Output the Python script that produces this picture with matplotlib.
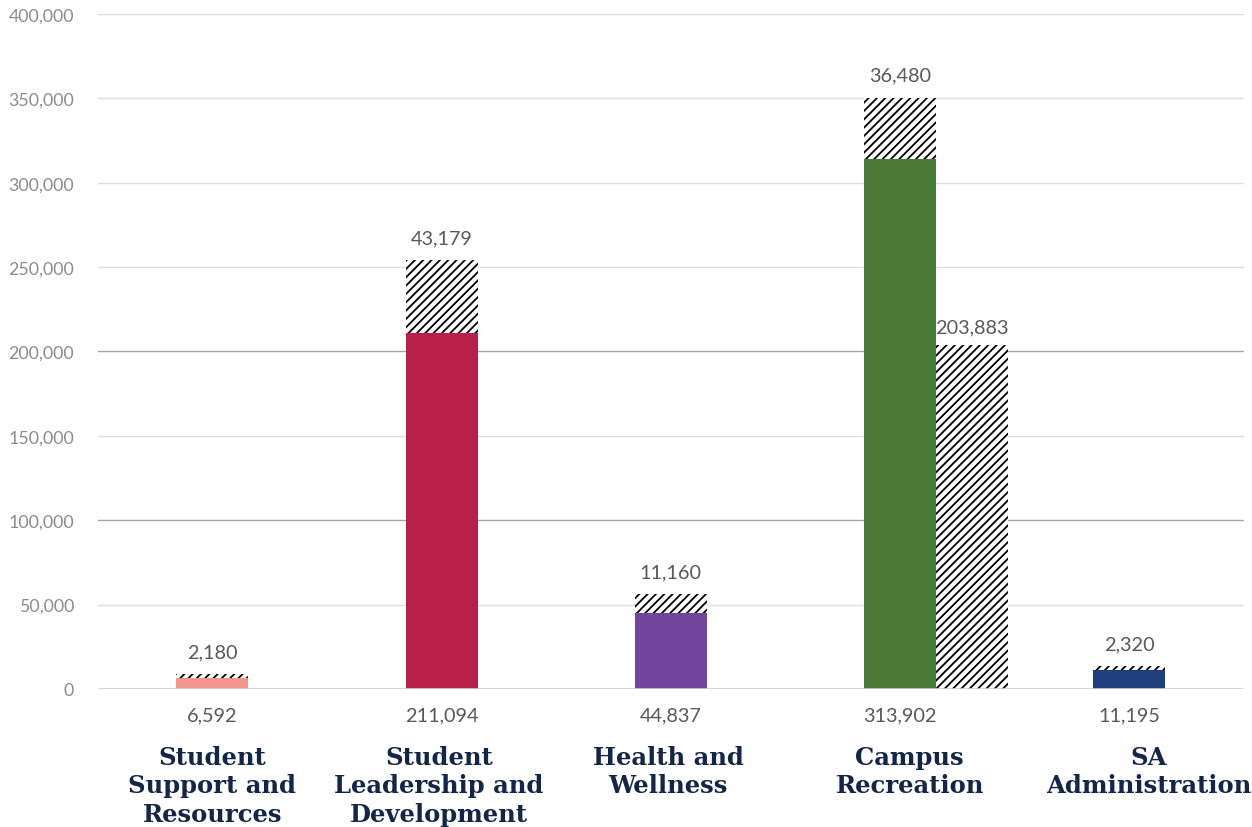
import matplotlib
matplotlib.use("Agg")
import matplotlib.pyplot as plt

# --- data ---
categories = ["Student\nSupport and\nResources",
              "Student\nLeadership and\nDevelopment",
              "Health and\nWellness",
              "Campus\nRecreation",
              "SA\nAdministration"]
base_values = [6592, 211094, 44837, 313902, 11195]
top_values = [2180, 43179, 11160, 36480, 2320]
extra_value = 203883          # second hatched bar next to Campus Recreation
extra_index = 3
bar_colors = ["#F2958C", "#B81F49", "#71459B", "#4A7A36", "#1E3F7B"]
yticks = [0, 50000, 100000, 150000, 200000, 250000, 300000, 350000, 400000]

plt.rcParams['hatch.linewidth'] = 1.3
num_font = "Lato"
gray = "#595959"

fig = plt.figure(figsize=(12.52, 8.28), dpi=100)
ax = fig.add_axes([0.078, 0.1667, 0.9156, 0.8152])

w = 0.314
x = list(range(len(categories)))
hatch = "////"

ax.bar(x, base_values, width=w, color=bar_colors, linewidth=0, zorder=3)
ax.bar(x, top_values, width=w, bottom=base_values, color="white",
       edgecolor="black", hatch=hatch, linewidth=0, zorder=3)
ax.bar(extra_index + w, extra_value, width=w, color="white",
       edgecolor="black", hatch=hatch, linewidth=0, zorder=3)

# value labels on top of the hatched parts
for xi, b, t in zip(x, base_values, top_values):
    ax.annotate(f"{t:,}", (xi, b + t), xytext=(0, 10), textcoords="offset points",
                ha="center", va="bottom", fontsize=14.3, color=gray, family=num_font)
ax.annotate(f"{extra_value:,}", (extra_index + w, extra_value), xytext=(0, 7),
            textcoords="offset points", ha="center", va="bottom",
            fontsize=14.3, color=gray, family=num_font)

# base values under the axis
for xi, b in zip(x, base_values):
    ax.annotate(f"{b:,}", (xi, 0), xytext=(0, -19), textcoords="offset points",
                ha="center", va="center", fontsize=14.3, color=gray, family=num_font)

# category names
shifts = [0, -2, -2, 7, 14]
for xi, c, s in zip(x, categories, shifts):
    ax.annotate(c, (xi, 0), xytext=(s, -40), textcoords="offset points",
                ha="center", va="top", fontsize=17.5, fontweight="bold",
                color="#14254A", family="DejaVu Serif", linespacing=1.25)

ax.set_xlim(-0.5, 4.5)
ax.set_ylim(0, 400000)
ax.set_yticks(yticks)
ax.set_yticklabels([f"{v:,}" for v in yticks], fontsize=12.8, color="#8C8C8C",
                   family=num_font)
ax.tick_params(axis="y", length=0, pad=17)
ax.set_xticks([])
for s in ax.spines.values():
    s.set_visible(False)

for v in yticks[1:]:
    col = "#A6A6A6" if v in (100000, 200000) else "#DDDDDD"
    ax.axhline(v, color=col, linewidth=1, zorder=1)
ax.axhline(0, color="#D0D0D0", linewidth=1.2, zorder=4)

fig.savefig("out.png", dpi=100)
